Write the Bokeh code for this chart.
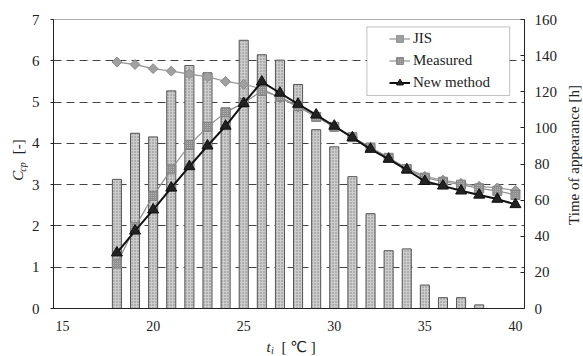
import math
from bokeh.plotting import figure
from bokeh.layouts import row, column
from bokeh.models import (Range1d, LinearAxis, FixedTicker, BoxAnnotation,
                          Legend, LegendItem)
from bokeh.core.properties import value
from bokeh.embed import file_html
from bokeh.resources import INLINE

# ---- data ----
temps = list(range(18, 41))
jis = [5.97, 5.91, 5.81, 5.75, 5.68, 5.61, 5.50, 5.43, 5.32, 5.10, 4.88, 4.65,
       4.40, 4.15, 3.90, 3.65, 3.40, 3.20, 3.11, 3.03, 2.96, 2.92, 2.86]
measured = [1.09, 1.97, 2.73, 3.37, 3.96, 4.40, 4.75, 4.98, 5.27, 5.13, 4.90, 4.64,
            4.40, 4.15, 3.90, 3.65, 3.38, 3.17, 3.07, 3.00, 2.91, 2.85, 2.75]
new_method = [1.35, 1.88, 2.39, 2.92, 3.44, 3.94, 4.42, 4.97, 5.49, 5.22, 4.95, 4.69,
              4.42, 4.14, 3.86, 3.62, 3.36, 3.08, 2.97, 2.85, 2.75, 2.65, 2.52]
bar_temps = list(range(18, 39))
hours = [71.5, 97, 95, 120.5, 134.5, 130.5, 111, 148.5, 140.5, 137.5, 124, 99,
         89.5, 73, 52.5, 32, 33, 13, 6, 6, 2]
x_ticks = [15, 20, 25, 30, 35, 40]
left_ticks = [0, 1, 2, 3, 4, 5, 6, 7]
grid_ticks = [1, 2, 3, 4, 5, 6]
right_ticks = [0, 20, 40, 60, 80, 100, 120, 140, 160]

FONT = "Liberation Serif"
TXT = "#222222"

MAIN_H = 337

p = figure(width=532, height=MAIN_H, output_backend="svg", toolbar_location=None,
           title=None, x_range=Range1d(14.5, 40.5), y_range=Range1d(0, 7),
           min_border_left=22, min_border_right=35, min_border_top=19,
           min_border_bottom=29, margin=0)
p.background_fill_color = "white"
p.border_fill_color = "white"
p.outline_line_color = "#555555"
p.outline_line_dash = "1 1"

p.extra_y_ranges = {"h": Range1d(0, 160)}

# axes
xa = p.xaxis[0]
xa.ticker = FixedTicker(ticks=x_ticks)
xa.major_tick_out = 0
xa.major_tick_in = 0
xa.minor_tick_line_color = None
xa.major_label_standoff = 12
ya = p.yaxis[0]
ya.ticker = FixedTicker(ticks=left_ticks)
ya.major_tick_out = 3
ya.major_tick_in = 0
ya.minor_tick_line_color = None
ya.major_label_standoff = 11
ra = LinearAxis(y_range_name="h", ticker=FixedTicker(ticks=right_ticks))
ra.major_tick_in = 4
ra.major_tick_out = 0
ra.minor_tick_line_color = None
ra.major_label_standoff = 10
p.add_layout(ra, "right")
for ax in (xa, ya, ra):
    ax.axis_line_color = "#222222"
    ax.major_tick_line_color = "#222222"
    ax.major_label_text_font = FONT
    ax.major_label_text_font_size = "15px"
    ax.major_label_text_color = TXT
xa.major_label_text_font_size = "14px"

p.xgrid.grid_line_color = None
p.ygrid.ticker = FixedTicker(ticks=grid_ticks)
p.ygrid.grid_line_color = "#444444"
p.ygrid.grid_line_dash = "8 5"
p.ygrid.grid_line_width = 1

# bars
p.vbar(x=bar_temps, top=hours, width=0.5, y_range_name="h",
       fill_color="#cdcdcd", line_color="#555555", line_width=1,
       hatch_pattern="dot", hatch_color="#808080", hatch_scale=3, hatch_weight=1)

# lines
r_jl = p.line(temps, jis, line_color="#9a9a9a", line_width=1.3)
r_jm = p.scatter(temps, jis, marker="square", angle=math.pi / 4, size=7,
                 fill_color="#a0a0a0", line_color="#8a8a8a")
r_ml = p.line(temps, measured, line_color="#8f8f8f", line_width=1.2)
r_mm = p.scatter(temps, measured, marker="square", size=9,
                 fill_color="#909090", line_color="#808080",
                 hatch_pattern="dot", hatch_color="#bbbbbb", hatch_scale=2)
r_nl = p.line(temps, new_method, line_color="#111111", line_width=2)
r_nm = p.scatter(temps, new_method, marker="triangle", size=11,
                 fill_color="#222222", line_color="#111111")

# legend frame
box = BoxAnnotation(left=31.8, right=39.68, top=6.82, bottom=5.16,
                    fill_color="white", fill_alpha=1.0,
                    line_color="#333333", line_width=1)
p.add_layout(box)

legend = Legend(items=[LegendItem(label="JIS", renderers=[r_jl, r_jm]),
                       LegendItem(label="Measured", renderers=[r_ml, r_mm]),
                       LegendItem(label="New method", renderers=[r_nl, r_nm])],
                location=(336, 217), padding=0, margin=0, spacing=5,
                glyph_width=21, glyph_height=17, label_height=17,
                label_standoff=3, border_line_alpha=0, background_fill_alpha=0,
                label_text_font=FONT, label_text_font_size="15px",
                label_text_color=TXT)
p.add_layout(legend)


# ---- axis titles in narrow side figures (pixel-unit ranges) ----
def side_fig(w, h):
    f = figure(width=w, height=h, output_backend="svg", toolbar_location=None,
               title=None, x_range=Range1d(0, w), y_range=Range1d(0, h),
               x_axis_type=None, y_axis_type=None, min_border=0, margin=0)
    f.outline_line_color = None
    f.background_fill_color = "white"
    f.border_fill_color = "white"
    return f


def txt(f, x, y, s, size="15px", style="normal", angle=0.0, align="left",
        font=FONT):
    f.text(x=[x], y=[y], text=[s], angle=angle, text_font=value(font),
           text_font_size=size, text_font_style=style, text_align=align,
           text_baseline="middle", text_color=TXT)


left_f = side_fig(28, MAIN_H)
txt(left_f, 17, MAIN_H - 188, "C", style="italic", angle=math.pi / 2)
txt(left_f, 21.5, MAIN_H - 177.5, "cp", size="10px", style="italic",
    angle=math.pi / 2)
txt(left_f, 17, MAIN_H - 157, "[-]", angle=math.pi / 2)

right_f = side_fig(23, MAIN_H)
txt(right_f, 13, MAIN_H - 158, "Time of appearance [h]", angle=math.pi / 2,
    align="center")

BOT_H = 356 - MAIN_H
bottom_f = side_fig(583, BOT_H)
txt(bottom_f, 266, 356 - 346, "t", style="italic")
txt(bottom_f, 270.5, 356 - 350, "i", size="10px", style="italic")
txt(bottom_f, 281, 356 - 346, "[ ℃ ]", font="Liberation Serif, DejaVu Sans")

layout = column(row(left_f, p, right_f, spacing=0, margin=0), bottom_f,
                spacing=0, margin=0)

open("out.html", "w").write(file_html(layout, INLINE))
